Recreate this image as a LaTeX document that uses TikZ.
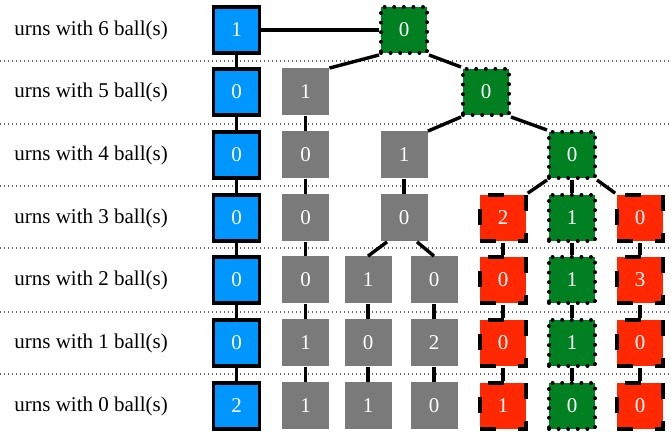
\documentclass[tikz,border=0pt]{standalone}
\usepackage{fontspec}
\setmainfont{Liberation Serif}
\usepackage{tikz}
\usetikzlibrary{calc}

\definecolor{urnblue}{RGB}{0,150,255}
\definecolor{urngreen}{RGB}{0,128,32}
\definecolor{urnred}{RGB}{255,40,0}
\definecolor{urngrey}{RGB}{122,122,122}

\begin{document}
\begin{tikzpicture}[x=0.5pt,y=-0.5pt,
    box/.style={minimum size=23pt,inner sep=0pt,text=white,font=\fontsize{10.5}{11}\selectfont},
    bluebox/.style={box,fill=urnblue,draw=black,line width=1.8pt},
    greybox/.style={box,fill=urngrey,minimum size=23.5pt},
    greenbox/.style={box,fill=urngreen,draw=black,line width=2pt,dash pattern=on 0pt off 4.8pt,line cap=round},
    redbox/.style={box,fill=urnred,draw=black,line width=1.8pt,dash pattern=on 8pt off 11pt},
    link/.style={line width=1.7pt},
    sep/.style={black!60,line width=0.6pt,dash pattern=on 0.6pt off 1.4pt},
    lab/.style={anchor=west,inner sep=0pt,font=\fontsize{10.5}{12}\selectfont}]
      \useasboundingbox (0,0) rectangle (671,432);
      % separators
      \foreach \y in {61,124,186,248,312,374}
        \draw[sep] (0,\y) -- (671,\y);
      % row labels
      \node[lab] (l6) at (14,30) {urns with 6 ball(s)};
      \node[lab] (l5) at (14,92) {urns with 5 ball(s)};
      \node[lab] (l4) at (14,155) {urns with 4 ball(s)};
      \node[lab] (l3) at (14,218) {urns with 3 ball(s)};
      \node[lab] (l2) at (14,280) {urns with 2 ball(s)};
      \node[lab] (l1) at (14,343) {urns with 1 ball(s)};
      \node[lab] (l0) at (14,406) {urns with 0 ball(s)};
      % row 6
      \node[bluebox] (61) at (236.5,30) {1};
      \node[greenbox] (64) at (404,30) {0};
      % row 5
      \node[bluebox] (51) at (236.5,92) {0};
      \node[greybox] (52) at (305.5,92) {1};
      \node[greenbox] (55) at (486,92) {0};
      % row 4
      \node[bluebox] (41) at (236.5,155) {0};
      \node[greybox] (42) at (305.5,155) {0};
      \node[greybox] (44) at (404,155) {1};
      \node[greenbox] (47) at (572,155) {0};
      % row 3
      \node[bluebox] (31) at (236.5,218) {0};
      \node[greybox] (32) at (305.5,218) {0};
      \node[greybox] (34) at (404,218) {0};
      \node[redbox] (36) at (503,218) {2};
      \node[greenbox] (37) at (572,218) {1};
      \node[redbox] (38) at (640,218) {0};
      % row 2
      \node[bluebox] (21) at (236.5,280) {0};
      \node[greybox] (22) at (305.5,280) {0};
      \node[greybox] (23) at (368,280) {1};
      \node[greybox] (25) at (434,280) {0};
      \node[redbox] (26) at (503,280) {0};
      \node[greenbox] (27) at (572,280) {1};
      \node[redbox] (28) at (640,280) {3};
      % row 1
      \node[bluebox] (11) at (236.5,343) {0};
      \node[greybox] (12) at (305.5,343) {1};
      \node[greybox] (13) at (368,343) {0};
      \node[greybox] (15) at (434,343) {2};
      \node[redbox] (16) at (503,343) {0};
      \node[greenbox] (17) at (572,343) {1};
      \node[redbox] (18) at (640,343) {0};
      % row 0
      \node[bluebox] (01) at (236.5,406) {2};
      \node[greybox] (02) at (305.5,406) {1};
      \node[greybox] (03) at (368,406) {1};
      \node[greybox] (05) at (434,406) {0};
      \node[redbox] (06) at (503,406) {1};
      \node[greenbox] (07) at (572,406) {0};
      \node[redbox] (08) at (640,406) {0};
      % horizontal line
      \draw[link] (61) -- (64);
      % diagonal lines
      \draw[link] (64.south west) -- (52.north east);
      \draw[link] (64.south east) -- (55.north west);
      \draw[link] (55.south west) -- (44.north east);
      \draw[link] (55.south east) -- (47.north west);
      \draw[link] (47.south west) -- (36.north east);
      \draw[link] (47.south east) -- (38.north west);
      \draw[link] ([xshift=-8.5pt]34.south) -- (23.north);
      \draw[link] ([xshift=6.5pt]34.south) -- (25.north);
      % vertical lines
      \draw[link] (61) -- (51); \draw[link] (51) -- (41); \draw[link] (41) -- (31);
      \draw[link] (31) -- (21); \draw[link] (21) -- (11); \draw[link] (11) -- (01);
      \draw[link] (52) -- (42); \draw[link] (42) -- (32); \draw[link] (32) -- (22);
      \draw[link] (22) -- (12); \draw[link] (12) -- (02);
      \draw[link] (44) -- (34);
      \draw[link] (23) -- (13); \draw[link] (13) -- (03);
      \draw[link] (25) -- (15); \draw[link] (15) -- (05);
      \draw[link] (47) -- (37); \draw[link] (37) -- (27); \draw[link] (27) -- (17); \draw[link] (17) -- (07);
      \draw[link] (36) -- (26); \draw[link] (26) -- (16); \draw[link] (16) -- (06);
      \draw[link] (38) -- (28); \draw[link] (28) -- (18); \draw[link] (18) -- (08);
\end{tikzpicture}
\end{document}
